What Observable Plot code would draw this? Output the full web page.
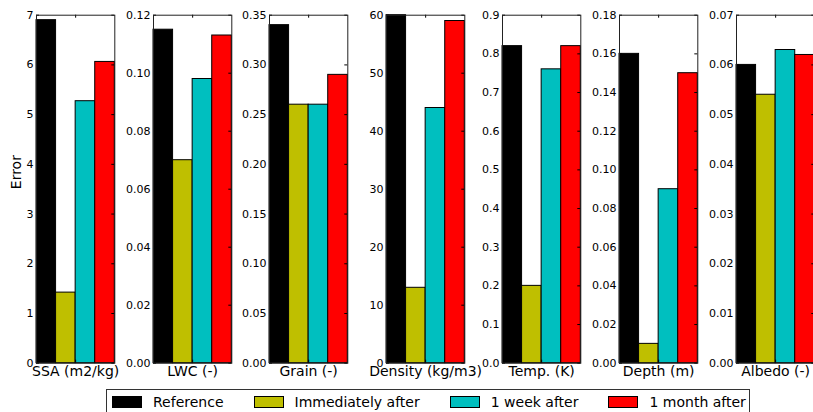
<!DOCTYPE html>
<html>
<head>
<meta charset="utf-8">
<script src="https://cdn.jsdelivr.net/npm/d3@7"></script>
<script src="https://cdn.jsdelivr.net/npm/@observablehq/plot@0.6"></script>
<style>
  html, body { margin: 0; padding: 0; background: white; }
  #chart { position: relative; width: 813px; height: 412px; overflow: hidden; font-family: "DejaVu Sans", sans-serif; }
  .panel { position: absolute; top: 0; }
  #legend { position: absolute; left: 106px; top: 389px; width: 644px; height: 40px; border: 1px solid #333; box-sizing: border-box; display: flex; flex-wrap: nowrap; align-items: flex-start; padding-left: 5px; white-space: nowrap; }
  .item { display: flex; flex: none; align-items: center; margin-right: 30px; height: 20px; margin-top: 2px; font-size: 14px; color: black; white-space: nowrap; }
  .sw { flex: none; width: 28px; height: 10px; border: 1px solid black; margin-right: 11px; }
</style>
</head>
<body>
<div id="chart"><div id="legend"></div></div>
<script>
// Series (legend)
const series = ["Reference", "Immediately after", "1 week after", "1 month after"];
const seriesColors = ["#000000", "#bfbf00", "#00bfbf", "#ff0000"];

// Panels (variables)
const variables = ["SSA (m2/kg)", "LWC (-)", "Grain (-)", "Density (kg/m3)", "Temp. (K)", "Depth (m)", "Albedo (-)"];

// Error values per series, one per variable
const reference      = [6.90, 0.115, 0.340, 60, 0.82, 0.160, 0.060];
const immediately    = [1.42, 0.070, 0.260, 13, 0.20, 0.010, 0.054];
const oneWeekAfter   = [5.27, 0.098, 0.260, 44, 0.76, 0.090, 0.063];
const oneMonthAfter  = [6.06, 0.113, 0.290, 59, 0.82, 0.150, 0.062];

// Y tick labels per panel
const ticksSSA     = ["0", "1", "2", "3", "4", "5", "6", "7"];
const ticksLWC     = ["0.00", "0.02", "0.04", "0.06", "0.08", "0.10", "0.12"];
const ticksGrain   = ["0.00", "0.05", "0.10", "0.15", "0.20", "0.25", "0.30", "0.35"];
const ticksDensity = ["0", "10", "20", "30", "40", "50", "60"];
const ticksTemp    = ["0.0", "0.1", "0.2", "0.3", "0.4", "0.5", "0.6", "0.7", "0.8", "0.9"];
const ticksDepth   = ["0.00", "0.02", "0.04", "0.06", "0.08", "0.10", "0.12", "0.14", "0.16", "0.18"];
const ticksAlbedo  = ["0.00", "0.01", "0.02", "0.03", "0.04", "0.05", "0.06", "0.07"];

const tickSets = [ticksSSA, ticksLWC, ticksGrain, ticksDensity, ticksTemp, ticksDepth, ticksAlbedo];
const seriesValues = [reference, immediately, oneWeekAfter, oneMonthAfter];

const chart = document.getElementById("chart");
const W = 117, ML = 36, MR = 2.7, MT = 14.7, MB = 49.3, H = 412;
const step = 116.62;
const fw = W - ML - MR, fh = H - MT - MB;
const tl = 3;

variables.forEach((name, p) => {
  const rows = series.map((s, i) => ({series: s, x1: i, x2: i + 1, value: seriesValues[i][p]}));
  const labels = tickSets[p];
  const tickVals = labels.map(Number);
  const fmt = new Map(tickVals.map((v, i) => [v, labels[i]]));
  const ymax = tickVals[tickVals.length - 1];
  const marks = [
    Plot.rectY(rows, {x1: "x1", x2: "x2", y: "value", fill: "series", stroke: "black", strokeWidth: 1}),
    Plot.axisY({ticks: tickVals, tickFormat: d => fmt.get(d), tickSize: 0, tickPadding: 3, label: null, fontSize: 11}),
    Plot.tickY(tickVals, {y: d => d, insetRight: fw - tl, stroke: "black"}),
    Plot.tickY(tickVals, {y: d => d, insetLeft: fw - tl, stroke: "black"}),
    Plot.tickX([2], {x: d => d, insetBottom: fh - tl, stroke: "black"}),
    Plot.tickX([2], {x: d => d, insetTop: fh - tl, stroke: "black"}),
    Plot.frame({stroke: "#222", strokeWidth: 1}),
    Plot.text([name], {frameAnchor: "bottom", lineAnchor: "top", dy: 3, fontSize: 14, fill: "black"})
  ];
  if (p === 0) {
    marks.push(Plot.text(["Error"], {frameAnchor: "left", dx: -20, rotate: -90, fontSize: 14, fill: "black"}));
  }
  const svg = Plot.plot({
    width: W, height: H,
    marginLeft: ML, marginRight: MR, marginTop: MT, marginBottom: MB,
    style: {background: "none", fontFamily: "DejaVu Sans", fontSize: "11px", color: "black", overflow: "visible"},
    x: {domain: [0, 4], axis: null},
    y: {domain: [0, ymax], axis: null, label: null},
    color: {domain: series, range: seriesColors},
    marks
  });
  svg.classList.add("panel");
  svg.style.left = (p * step) + "px";
  chart.appendChild(svg);
});

// Legend
const legend = d3.select("#legend");
series.forEach((s, i) => {
  const it = legend.append("div").attr("class", "item");
  it.append("div").attr("class", "sw").style("background", seriesColors[i]);
  it.append("span").text(s);
});
</script>
</body>
</html>
